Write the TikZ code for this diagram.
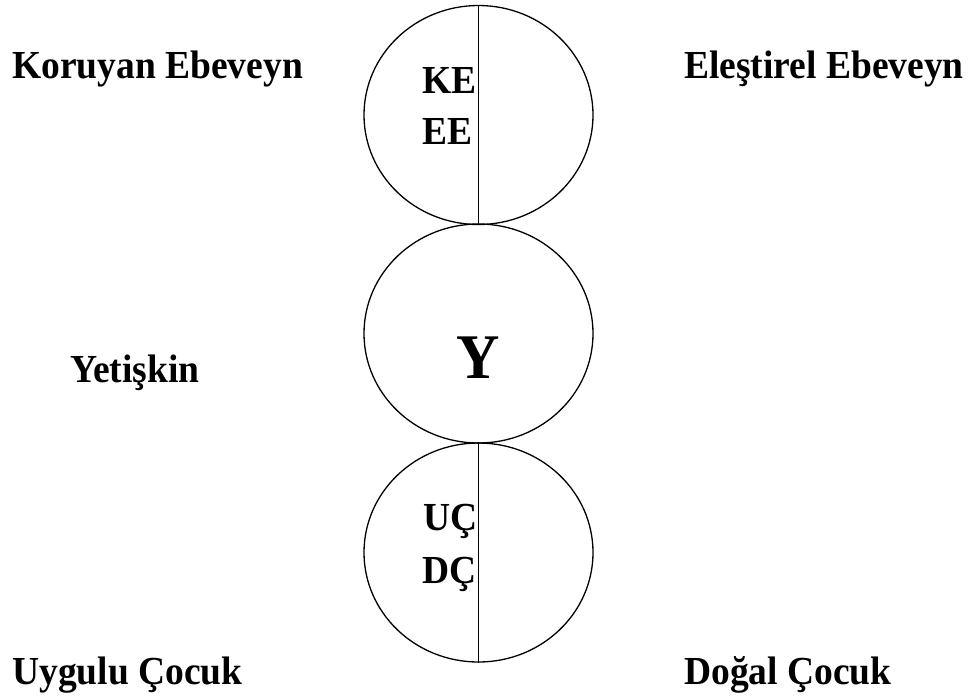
\documentclass[tikz,border=0pt]{standalone}
\usepackage{fontspec}
\usepackage{graphicx}
\setmainfont{Liberation Serif}
\usetikzlibrary{shapes.geometric}
\newcommand{\tall}[1]{\scalebox{1}[1.06]{#1}}
\tikzset{
  ego/.style={ellipse, draw=black, line width=1.3pt, minimum width=229pt, minimum height=219pt, inner sep=0pt},
  lbl/.style={anchor=base west, inner sep=0pt, font=\fontsize{37.5}{45}\selectfont\bfseries},
  divider/.style={draw=black, line width=1.3pt}
}
\begin{document}
\begin{tikzpicture}[x=1pt,y=-1pt]
\useasboundingbox (0,0) rectangle (974,697);
\node[ego] (P) at (478.5,115) {};
\node[ego] (A) at (478.5,333.5) {};
\node[ego] (C) at (478.5,552.5) {};
\draw[divider] (P.north) -- (P.south);
\draw[divider] (C.north) -- (C.south);
\node[lbl] (ke) at (422,93) {\tall{KE}};
\node[lbl] (ee) at (422,144) {\tall{EE}};
\node[lbl] (uc) at (423,530) {\tall{UÇ}};
\node[lbl] (dc) at (422,583) {\tall{DÇ}};
\node[anchor=base, inner sep=0pt, font=\fontsize{60}{70}\selectfont\bfseries] (y) at (478.5,378) {\tall{Y}};
\node[lbl] (koruyan) at (12,78) {\tall{Koruyan Ebeveyn}};
\node[lbl] (elestirel) at (684,78) {\tall{Eleştirel Ebeveyn}};
\node[lbl] (yetiskin) at (70,382) {\tall{Yetişkin}};
\node[lbl] (uygulu) at (12,684) {\tall{Uygulu Çocuk}};
\node[lbl] (dogal) at (684,684) {\tall{Doğal Çocuk}};
\end{tikzpicture}
\end{document}
